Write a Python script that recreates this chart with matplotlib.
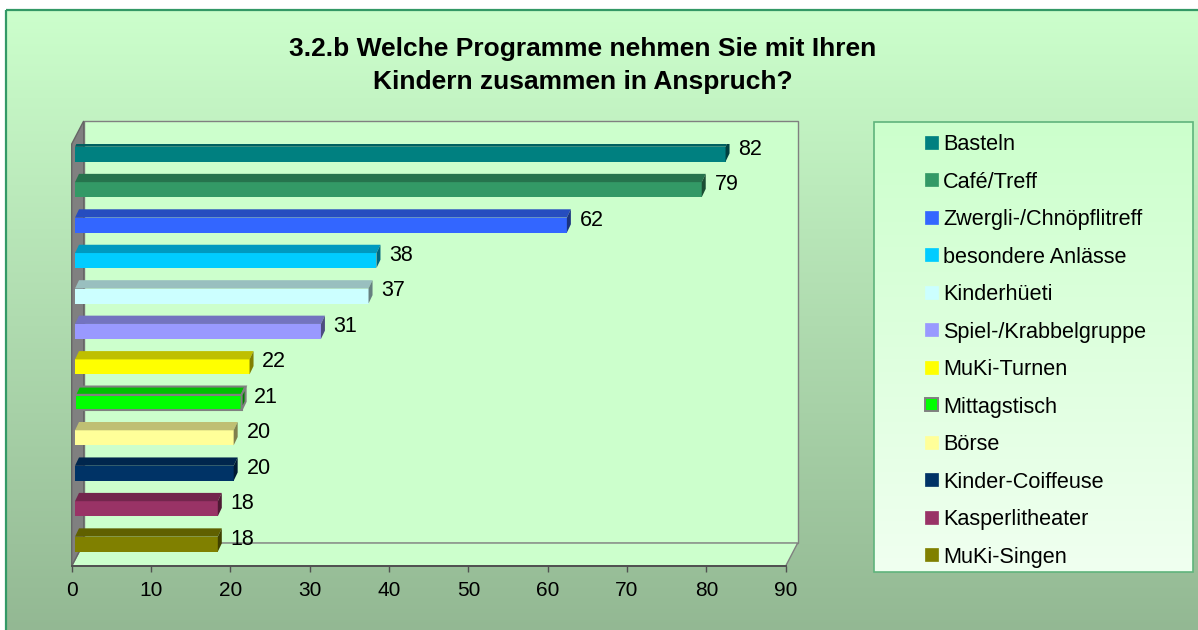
import numpy as np
import matplotlib.pyplot as plt
from matplotlib.patches import Polygon, Rectangle
from matplotlib.colors import to_rgb

plt.rcParams['font.family'] = ['Liberation Sans', 'DejaVu Sans']

categories = ['Basteln', 'Café/Treff', 'Zwergli-/Chnöpflitreff', 'besondere Anlässe',
              'Kinderhüeti', 'Spiel-/Krabbelgruppe', 'MuKi-Turnen', 'Mittagstisch',
              'Börse', 'Kinder-Coiffeuse', 'Kasperlitheater', 'MuKi-Singen']
values = [82, 79, 62, 38, 37, 31, 22, 21, 20, 20, 18, 18]
colors = ['#008080', '#339966', '#3366FF', '#00CCFF', '#CCFFFF', '#9999FF',
          '#FFFF00', '#00FF00', '#FFFF99', '#003366', '#993366', '#808000']
outlined = ['Mittagstisch']
xticks = [0, 10, 20, 30, 40, 50, 60, 70, 80, 90]
title = '3.2.b Welche Programme nehmen Sie mit Ihren\nKindern zusammen in Anspruch?'


def shade(c, f):
    return tuple(np.array(to_rgb(c)) * f)


def vgrad(c_top, c_bot, n=256):
    t = np.linspace(0, 1, n)[:, None, None]
    a, b = np.array(to_rgb(c_top)), np.array(to_rgb(c_bot))
    return a + (b - a) * t


W, H = 1198, 630
fig = plt.figure(figsize=(W / 100, H / 100), dpi=100)
fig.patch.set_facecolor('white')

# chart area background (pixel coordinates)
bg = fig.add_axes([0, 0, 1, 1], zorder=0)
bg.imshow(vgrad('#CCFFCC', '#93B893'), extent=[6, W + 2, H + 2, 10], aspect='auto')
bg.add_patch(Rectangle((6, 10), W, H, fill=False, ec='#339966', lw=1.6))

# legend panel
bg.imshow(vgrad('#CCFFCC', '#F0FFF0'), extent=[874, 1193, 572, 122], aspect='auto', zorder=2)
bg.add_patch(Rectangle((874, 122), 319, 450, fill=False, ec='#5FB47C', lw=1.2, zorder=3))
for i, (lab, c) in enumerate(zip(categories, colors)):
    yc = 142.4 + 37.48 * i
    ec = '#808080' if lab in outlined else c
    bg.add_patch(Rectangle((924.5, yc - 6.6), 13.2, 13.2, fc=c, ec=ec,
                           lw=1.4 if lab in outlined else 0.5, zorder=4))
    bg.text(943, yc, lab, va='center_baseline', ha='left', fontsize=15.6, zorder=4)

bg.set_xlim(0, W)
bg.set_ylim(H, 0)
bg.axis('off')

fig.text(583 / W, 1 - 65.5 / H, title, ha='center', va='center', fontsize=19,
         fontweight='bold', linespacing=1.47)

# plot area: front plane of the 3D box
x0, x1, yt_px, yb_px = 71.7, 785.7, 144, 566
pitch = 35.45
ax = fig.add_axes([x0 / W, 1 - yb_px / H, (x1 - x0) / W, (yb_px - yt_px) / H], zorder=3)
ax.patch.set_alpha(0)
ax.set_xlim(0, 90)
yb, yt = (yb_px - 154.2) / pitch, (yt_px - 154.2) / pitch
ax.set_ylim(yb, yt)
pxx = (x1 - x0) / 90

wdx, wdy = 12 / pxx, 23 / pitch          # wall depth
bx = 3.3 / pxx                            # bar start
ddx, ddy = 4 / pxx, 8.3 / pitch           # bar depth
bh = 15 / pitch                           # bar front height

kw = dict(clip_on=False, zorder=1)
ax.add_patch(Rectangle((wdx, yt - wdy), 90, yb - yt, fc='#CCFFCC', ec='#808080', lw=1, **kw))
ax.add_patch(Polygon([(0, yb), (90, yb), (90 + wdx, yb - wdy), (wdx, yb - wdy)],
                     fc='#CCFFCC', ec='#808080', lw=1, **kw))
ax.add_patch(Polygon([(0, yb), (0, yt), (wdx, yt - wdy), (wdx, yb - wdy)],
                     fc='#808080', ec='#666666', lw=1, **kw))

for i, (lab, v, c) in enumerate(zip(categories, values, colors)):
    ec = '#808080' if lab in outlined else 'none'
    lw = 1.5 if lab in outlined else 0
    top = i - bh / 2
    ax.barh(i, v, height=bh, left=bx, color=c, edgecolor=ec, linewidth=lw, zorder=2)
    ax.add_patch(Polygon([(bx, top), (bx + v, top), (bx + v + ddx, top - ddy), (bx + ddx, top - ddy)],
                         fc=shade(c, 0.75), ec=ec, lw=lw, zorder=2))
    ax.add_patch(Polygon([(bx + v, top), (bx + v, top + bh), (bx + v + ddx, top + bh - ddy),
                          (bx + v + ddx, top - ddy)],
                         fc=shade(c, 0.5), ec=ec, lw=lw, zorder=2))
    ax.text(bx + v + ddx + 1.1, i - 5 / pitch, str(v), va='center', ha='left', fontsize=15.5, zorder=3)

for s in ['top', 'right', 'left']:
    ax.spines[s].set_visible(False)
ax.spines['bottom'].set_color('#505050')
ax.spines['bottom'].set_linewidth(1.4)
ax.set_xticks(xticks)
ax.set_yticks([])
ax.tick_params(axis='x', direction='out', length=4.5, width=1, color='#505050',
               labelsize=15, pad=6)

fig.savefig('out.png', dpi=100, facecolor=fig.get_facecolor())
